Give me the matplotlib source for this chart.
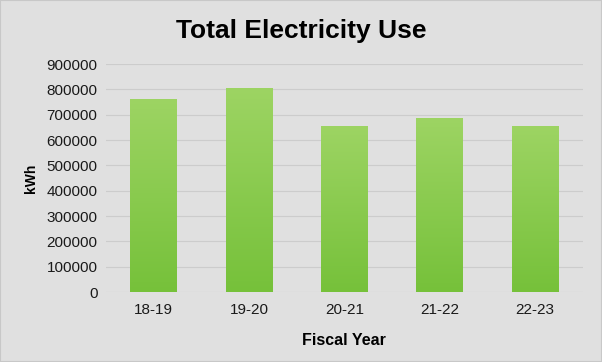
import numpy as np
from matplotlib import pyplot as plt
from matplotlib.colors import LinearSegmentedColormap

# 차트 자료
years = ['18-19', '19-20', '20-21', '21-22', '22-23']
kwh = [761000, 805000, 654000, 684000, 654000]

bg = '#e0e0e0'
plt.rcParams['font.family'] = ['Liberation Sans', 'DejaVu Sans']

fig = plt.figure(figsize=(6.02, 3.62), dpi=100, facecolor=bg)
ax = fig.add_axes([0.176, 0.193, 0.792, 0.63])
ax.set_facecolor(bg)

x = np.arange(len(years))
bars = ax.bar(x, kwh, width=0.49, color='none', zorder=2)

# 막대 그라데이션 (위: 밝은 녹색, 아래: 진한 녹색)
cmap = LinearSegmentedColormap.from_list('g', ['#76c13a', '#9dd463'])
grad = np.linspace(0, 1, 256).reshape(-1, 1)
for b in bars:
    x0, w, h = b.get_x(), b.get_width(), b.get_height()
    ax.imshow(grad, cmap=cmap, origin='lower', aspect='auto',
              extent=(x0, x0 + w, 0, h), zorder=2)

ax.set_xlim(-0.5, len(years) - 0.5)
ax.set_ylim(0, 900000)
ax.set_yticks(range(0, 900001, 100000))
ax.set_yticklabels([str(v) for v in range(0, 900001, 100000)])
ax.set_xticks(x)
ax.set_xticklabels(years)
ax.grid(axis='y', color='#cccccc', linewidth=0.8, zorder=0)
ax.set_axisbelow(True)
for s in ax.spines.values():
    s.set_visible(False)
ax.tick_params(length=0, labelsize=11, colors='#1a1a1a', pad=6)
ax.tick_params(axis='x', pad=8)

ax.set_ylabel('kWh', fontsize=10, fontweight='bold', labelpad=6)
ax.set_xlabel('Fiscal Year', fontsize=11.5, fontweight='bold', labelpad=11)
fig.text(0.5, 0.915, 'Total Electricity Use', ha='center', va='center',
         fontsize=19, fontweight='bold')

fig.patches.append(plt.Rectangle((0, 0), 1, 1, transform=fig.transFigure,
                                 fill=False, edgecolor='#c8c8c8', linewidth=1.5))
fig.savefig('out.png', dpi=100, facecolor=bg)
